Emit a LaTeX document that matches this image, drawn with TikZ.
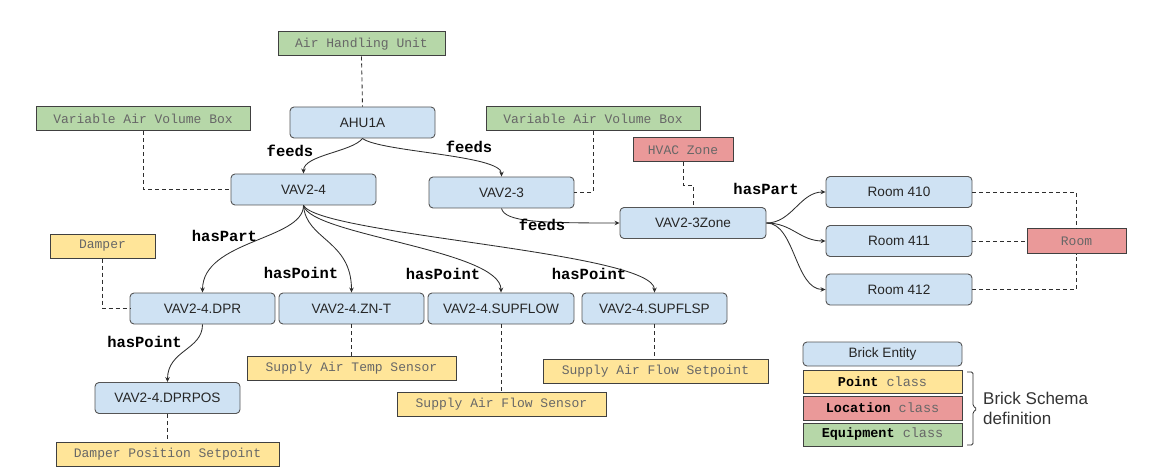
\documentclass[tikz,border=0pt]{standalone}
\usepackage{fontspec}
\setmainfont{Liberation Sans}
\newfontfamily\monof{Liberation Mono}
\usetikzlibrary{arrows.meta}
\definecolor{bfill}{HTML}{CFE2F3}
\definecolor{gfill}{HTML}{B6D7A8}
\definecolor{yfill}{HTML}{FFE599}
\definecolor{rfill}{HTML}{EA9999}
\definecolor{bdr}{HTML}{555555}
\definecolor{lnc}{HTML}{2E2E2E}
\definecolor{clstxt}{HTML}{676767}
\tikzset{
 ent/.style={draw=bdr, fill=bfill, rounded corners=4pt, line width=0.9pt, minimum width=145pt, minimum height=31pt, inner sep=0pt, font=\fontsize{13.6}{16}\selectfont, text=black!85},
 cls/.style={draw=black!75, line width=1pt, minimum height=24pt, inner sep=0pt, font=\monof\fontsize{13}{15}\selectfont, text=clstxt},
 eqp/.style={cls, fill=gfill},
 pnt/.style={cls, fill=yfill},
 loc/.style={cls, fill=rfill},
 rel/.style={draw=lnc, line width=0.85pt, -{Stealth[length=5pt,width=4.5pt]}},
 typ/.style={draw=lnc, line width=0.85pt, dash pattern=on 4pt off 3pt},
 lbl/.style={font=\monof\bfseries\fontsize{15.5}{17}\selectfont, text=black, inner sep=0pt},
}
\begin{document}
\begin{tikzpicture}[x=1pt,y=-1pt]
\useasboundingbox (0,0) rectangle (1159,473);

% class boxes
\node[eqp, minimum width=167pt] (ahuc) at (361.5,44) {Air Handling Unit};
\node[eqp, minimum width=214pt] (vavbl) at (143,119) {Variable Air Volume Box};
\node[eqp, minimum width=214pt] (vavbr) at (593,119) {Variable Air Volume Box};
\node[loc, minimum width=100pt] (hvz) at (683,150) {HVAC Zone};
\node[loc, minimum width=99pt] (room) at (1076.5,241) {Room};
\node[pnt, minimum width=105pt] (damper) at (102.5,246) {Damper};
\node[pnt, minimum width=209pt] (sats) at (351.5,368) {Supply Air Temp Sensor};
\node[pnt, minimum width=209pt] (safs) at (501.5,404) {Supply Air Flow Sensor};
\node[pnt, minimum width=225pt] (safsp) at (655.5,371) {Supply Air Flow Setpoint};
\node[pnt, minimum width=223pt] (dps) at (167.5,454) {Damper Position Setpoint};

% entities
\node[ent] (ahu) at (362.5,122.5) {AHU1A};
\node[ent] (vav24) at (303.5,189.5) {VAV2-4};
\node[ent] (vav23) at (501.5,192.5) {VAV2-3};
\node[ent, minimum width=146pt] (zone) at (693,223) {VAV2-3Zone};
\node[ent, minimum width=146pt] (r410) at (899,192) {Room 410};
\node[ent, minimum width=146pt] (r411) at (899,241) {Room 411};
\node[ent, minimum width=146pt] (r412) at (899,289.5) {Room 412};
\node[ent] (dpr) at (202.5,308.5) {VAV2-4.DPR};
\node[ent] (znt) at (351.5,308.5) {VAV2-4.ZN-T};
\node[ent, minimum width=146pt] (supflow) at (501,308.5) {VAV2-4.SUPFLOW};
\node[ent] (supflsp) at (654.5,308.5) {VAV2-4.SUPFLSP};
\node[ent] (dprpos) at (167.5,398) {VAV2-4.DPRPOS};

% type links
\draw[typ] (ahuc.south) -- (ahu.north);
\draw[typ] (vavbl.south) |- (vav24.west);
\draw[typ] (vavbr.south) |- (vav23.east);
\draw[typ] (hvz.south) -- ++(0,23) -| (zone.north);
\draw[typ] (r410.east) -| (room.north);
\draw[typ] (r411.east) -- (room.west);
\draw[typ] (r412.east) -| (room.south);
\draw[typ] (damper.south) |- (dpr.west);
\draw[typ] (znt.south) -- (znt.south |- sats.north);
\draw[typ] (supflow.south) -- (supflow.south |- safs.north);
\draw[typ] (supflsp.south) -- (supflsp.south |- safsp.north);
\draw[typ] (dprpos.south) -- (dprpos.south |- dps.north);

% relations
\draw[rel] (ahu.south) .. controls (352,152) and (303.5,155) .. (vav24.north);
\draw[rel] (ahu.south) .. controls (380,152) and (501.5,155) .. (vav23.north);
\draw[rel] (vav23.south) .. controls (505,222) and (540,223) .. (zone.west);
\draw[rel] (zone.east) .. controls (792,223) and (800,192) .. (r410.west);
\draw[rel] (zone.east) .. controls (792,223) and (800,241) .. (r411.west);
\draw[rel] (zone.east) .. controls (795,223) and (795,289.5) .. (r412.west);
\draw[rel] (vav24.south) .. controls (303.5,240) and (202.5,240) .. (dpr.north);
\draw[rel] (vav24.south) .. controls (306,240) and (351.5,240) .. (znt.north);
\draw[rel] (vav24.south) .. controls (310,235) and (501,250) .. (supflow.north);
\draw[rel] (vav24.south) .. controls (320,235) and (654.5,252) .. (supflsp.north);
\draw[rel] (dpr.south) .. controls (202.5,350) and (167.5,350) .. (dprpos.north);

% relation labels
\node[lbl] (f1) at (290,151) {feeds};
\node[lbl] (f2) at (469,147) {feeds};
\node[lbl] (f3) at (542,225) {feeds};
\node[lbl] (hp1) at (766,189) {hasPart};
\node[lbl] (hp2) at (224.5,236) {hasPart};
\node[lbl] (hpt1) at (301,273) {hasPoint};
\node[lbl] (hpt2) at (443,274) {hasPoint};
\node[lbl] (hpt3) at (589,274) {hasPoint};
\node[lbl] (hpt4) at (144.5,342) {hasPoint};

% legend
\node[ent, minimum width=159pt, minimum height=24pt] (lgb) at (882.5,354) {Brick Entity};
\node[pnt, minimum width=159pt, minimum height=23pt, font=\monof\fontsize{13.5}{15}\selectfont] (lgp) at (882.5,381.5) {\textbf{\color{black}Point} class};
\node[loc, minimum width=159pt, minimum height=24pt, font=\monof\fontsize{13.5}{15}\selectfont] (lgl) at (882.5,408) {\textbf{\color{black}Location} class};
\node[eqp, minimum width=159pt, minimum height=23pt, font=\monof\fontsize{13.5}{15}\selectfont] (lge) at (882.5,434.5) {\textbf{\color{black}Equipment} class};
\draw[lnc, line width=0.8pt, rounded corners=1.5pt] (967,372) -- (973,372) -- (973,406) -- (977,409) -- (973,412) -- (973,445) -- (967,445);
\node[anchor=west, align=left, inner sep=0pt, font=\fontsize{17}{20}\selectfont, text=black!80] (bsd) at (983,408) {Brick Schema\\definition};
\end{tikzpicture}
\end{document}
